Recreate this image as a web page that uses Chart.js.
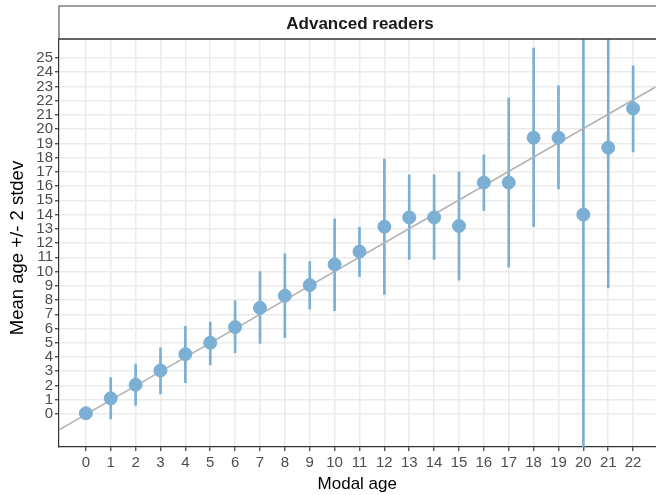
<!DOCTYPE html>
<html>
<head>
<meta charset="utf-8">
<script src="https://cdn.jsdelivr.net/npm/chart.js@4/dist/chart.umd.min.js"></script>
<style>
  html, body { margin: 0; padding: 0; background: #fff; overflow: hidden; }
  #wrap { width: 656px; height: 495px; position: relative; overflow: hidden; }
</style>
</head>
<body>
<div id="wrap"><canvas id="myChart"></canvas></div>
<script>
// modal age of each group
const modalAge = [0, 1, 2, 3, 4, 5, 6, 7, 8, 9, 10, 11, 12, 13, 14, 15, 16, 17, 18, 19, 20, 21, 22];
// mean age per group
const meanAge = [0.05, 1.1, 2.05, 3.05, 4.2, 5.0, 6.1, 7.45, 8.3, 9.05, 10.5, 11.4, 13.15, 13.8, 13.8, 13.2, 16.25, 16.25, 19.4, 19.4, 14.0, 18.7, 21.45];
// mean - 2 stdev
const lowerAge = [0.05, -0.35, 0.6, 1.4, 2.2, 3.45, 4.3, 4.95, 5.35, 7.35, 7.25, 9.65, 8.4, 10.85, 10.85, 9.4, 14.3, 10.3, 13.15, 15.8, -3.0, 8.85, 18.4];
// mean + 2 stdev
const upperAge = [0.05, 2.55, 3.5, 4.65, 6.15, 6.45, 7.95, 10.0, 11.25, 10.7, 13.7, 13.1, 17.9, 16.8, 16.8, 17.0, 18.2, 22.2, 25.7, 23.05, 31.0, 28.6, 24.45];

// fitted line end points
const fitX = [-1.1, 23.5];
const fitY = [-1.14, 23.56];

const yTicks = [0, 1, 2, 3, 4, 5, 6, 7, 8, 9, 10, 11, 12, 13, 14, 15, 16, 17, 18, 19, 20, 21, 22, 23, 24, 25];
const xTicks = modalAge;

const panelTitle = 'Advanced readers';
const yTitle = 'Mean age +/- 2 stdev';

const BLUE = 'rgb(123,175,212)';
const FONT = "'Liberation Sans', Arial, sans-serif";

const points = modalAge.map((x, i) => ({ x: x, y: meanAge[i] }));
const bars = modalAge.map((x, i) => ({ x: x, y: [lowerAge[i], upperAge[i]] }));
const fit = fitX.map((x, i) => ({ x: x, y: fitY[i] }));

// facet strip above the panel + rotated y title
const stripPlugin = {
  id: 'strip',
  afterDraw(chart) {
    const ctx = chart.ctx;
    const a = chart.chartArea;
    ctx.save();
    ctx.strokeStyle = '#7f7f7f';
    ctx.lineWidth = 1.5;
    ctx.beginPath();
    ctx.moveTo(a.left, a.top);
    ctx.lineTo(a.left, 6);
    ctx.lineTo(chart.width + 2, 6);
    ctx.stroke();
    ctx.strokeStyle = '#333';
    ctx.beginPath();
    ctx.moveTo(a.left, a.top);
    ctx.lineTo(chart.width + 2, a.top);
    ctx.stroke();
    ctx.fillStyle = '#1a1a1a';
    ctx.font = 'bold 17px ' + FONT;
    ctx.textAlign = 'center';
    ctx.textBaseline = 'alphabetic';
    ctx.fillText(panelTitle, 360, 29);

    ctx.translate(23, 248);
    ctx.rotate(-Math.PI / 2);
    ctx.fillStyle = '#000';
    ctx.font = '18.5px ' + FONT;
    ctx.fillText(yTitle, 0, 0);
    ctx.restore();
  }
};

const config = {
  data: {
    datasets: [
      {
        type: 'scatter',
        data: points,
        backgroundColor: BLUE,
        borderColor: BLUE,
        pointRadius: 6.5,
        pointHoverRadius: 6.5,
        order: 0,
        clip: 0
      },
      {
        type: 'line',
        data: fit,
        borderColor: '#b3b3b3',
        borderWidth: 1.6,
        pointRadius: 0,
        fill: false,
        order: 1,
        clip: 0
      },
      {
        type: 'bar',
        data: bars,
        backgroundColor: BLUE,
        borderWidth: 0,
        barThickness: 2,
        order: 2,
        clip: 0
      }
    ]
  },
  options: {
    responsive: false,
    animation: false,
    layout: { padding: { top: 39, left: 0, right: 0, bottom: 0 } },
    plugins: {
      legend: { display: false },
      tooltip: { enabled: false }
    },
    scales: {
      x: {
        type: 'linear',
        min: -1.08,
        max: 22.9,
        offset: false,
        afterBuildTicks(scale) { scale.ticks = xTicks.map(v => ({ value: v })); },
        afterFit(scale) { scale.height = 48; },
        grid: { color: '#ebebeb', lineWidth: 1.5, tickColor: '#333', tickLength: 4, tickWidth: 1.2, offset: false },
        border: { color: '#333', width: 1.2 },
        ticks: { color: '#4d4d4d', font: { size: 15, family: FONT }, padding: 3, maxRotation: 0, autoSkip: false },
        title: { display: true, text: 'Modal age', color: '#000', font: { size: 17, family: FONT }, padding: { top: 0, bottom: 0 } }
      },
      y: {
        type: 'linear',
        min: -2.32,
        max: 26.33,
        afterBuildTicks(scale) { scale.ticks = yTicks.map(v => ({ value: v })); },
        afterFit(scale) { scale.width = 59; },
        grid: { color: '#ebebeb', lineWidth: 1.5, tickColor: '#333', tickLength: 4, tickWidth: 1.2 },
        border: { color: '#333', width: 1.2 },
        ticks: { color: '#4d4d4d', font: { size: 15, family: FONT, lineHeight: 1 }, padding: 2, autoSkip: false },
        title: { display: false }
      }
    }
  },
  plugins: [stripPlugin]
};

// the panel runs on past the right edge of the page, so the canvas is a bit wider
const canvas = document.getElementById('myChart');
canvas.width = 663;
canvas.height = 495;
const myChart = new Chart(canvas, config);
</script>
</body>
</html>
